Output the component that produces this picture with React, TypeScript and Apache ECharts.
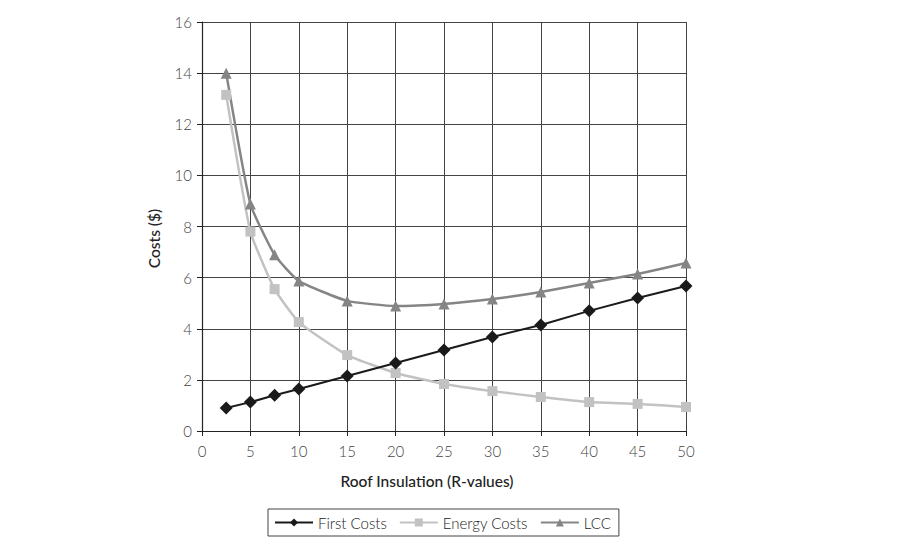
import React, { useEffect, useRef } from "react";
import * as echarts from "echarts";

const rValues = [2.5, 5, 7.5, 10, 15, 20, 25, 30, 35, 40, 45, 50];
const firstCosts = [0.9, 1.13, 1.4, 1.64, 2.15, 2.66, 3.17, 3.68, 4.15, 4.7, 5.2, 5.67];
const energyCosts = [13.15, 7.8, 5.55, 4.26, 2.97, 2.27, 1.84, 1.56, 1.33, 1.13, 1.06, 0.94];
const lccCosts = [14.0, 8.88, 6.89, 5.87, 5.09, 4.89, 4.97, 5.16, 5.44, 5.79, 6.14, 6.57];

const FONT = "Lato, 'Open Sans', sans-serif";

function pairs(ys: number[]) {
  return rValues.map((x, i) => [x, ys[i]]);
}

export default function App() {
  const ref = useRef<HTMLDivElement>(null);
  useEffect(() => {
    if (!ref.current) return;
    const chart = echarts.init(ref.current, undefined, { renderer: "svg" });
    chart.setOption({
      animation: false,
      backgroundColor: "#ffffff",
      textStyle: { fontFamily: FONT },
      grid: { left: 202, right: 214, top: 22, bottom: 119 },
      xAxis: {
        type: "value",
        min: 0,
        max: 50,
        interval: 5,
        name: "Roof Insulation (R-values)",
        nameLocation: "middle",
        nameGap: 42,
        nameTextStyle: {
          fontFamily: FONT,
          fontSize: 15.5,
          color: "#222",
          fontWeight: 500,
          padding: [0, 34, 0, 0],
        },
        axisLine: { show: true, lineStyle: { color: "#222", width: 1.2 } },
        axisTick: { show: true, length: 5, lineStyle: { color: "#222" } },
        axisLabel: { fontFamily: FONT, fontSize: 15, color: "#444", margin: 12, fontWeight: 300 },
        splitLine: { show: true, lineStyle: { color: "#444", width: 1 } },
      },
      yAxis: {
        type: "value",
        min: 0,
        max: 16,
        interval: 2,
        name: "Costs ($)",
        nameLocation: "middle",
        nameGap: 40,
        nameRotate: 90,
        nameTextStyle: {
          fontFamily: FONT,
          fontSize: 15.5,
          color: "#222",
          fontWeight: 500,
          padding: [0, 24, 0, 0],
        },
        axisLine: { show: true, lineStyle: { color: "#222", width: 1.2 } },
        axisTick: { show: true, length: 5, lineStyle: { color: "#222" } },
        axisLabel: { fontFamily: FONT, fontSize: 15, color: "#444", margin: 10, fontWeight: 300 },
        splitLine: { show: true, lineStyle: { color: "#444", width: 1 } },
      },
      legend: {
        top: 509,
        left: 268,
        orient: "horizontal",
        borderColor: "#444",
        borderWidth: 1,
        padding: [6, 8, 6, 6],
        itemGap: 12,
        itemWidth: 38,
        itemHeight: 10,
        textStyle: { fontFamily: FONT, fontSize: 15, color: "#222", fontWeight: 300 },
        data: ["First Costs", "Energy Costs", "LCC"],
      },
      series: [
        {
          name: "First Costs",
          type: "line",
          data: pairs(firstCosts),
          symbol: "diamond",
          symbolSize: 13,
          lineStyle: { color: "#1a1a1a", width: 2 },
          itemStyle: { color: "#1a1a1a" },
          z: 4,
        },
        {
          name: "Energy Costs",
          type: "line",
          data: pairs(energyCosts),
          smooth: 0.15,
          symbol: "rect",
          symbolSize: 10,
          lineStyle: { color: "#c2c2c2", width: 2.5 },
          itemStyle: { color: "#c2c2c2" },
          z: 3,
        },
        {
          name: "LCC",
          type: "line",
          data: pairs(lccCosts),
          smooth: 0.15,
          symbol: "triangle",
          symbolSize: 11,
          lineStyle: { color: "#858585", width: 2.5 },
          itemStyle: { color: "#858585" },
          z: 3,
        },
      ],
    });
    return () => chart.dispose();
  }, []);
  return (
    <div
      ref={ref}
      style={{ position: "absolute", left: 0, top: 0, width: 900, height: 550 }}
    />
  );
}
